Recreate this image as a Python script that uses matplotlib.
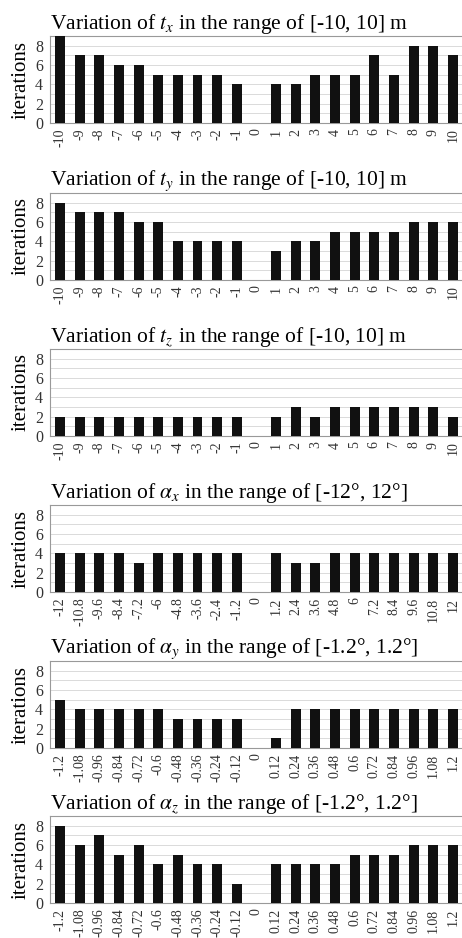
import matplotlib
matplotlib.use("Agg")
import matplotlib.pyplot as plt
import numpy as np

plt.rcParams['font.family'] = ['Liberation Serif', 'DejaVu Serif']
plt.rcParams['mathtext.fontset'] = 'stix'

# tick labels for each panel
t_labels = [str(v) for v in range(-10, 11)]
ax_labels = ["-12", "-10.8", "-9.6", "-8.4", "-7.2", "-6", "-4.8", "-3.6", "-2.4", "-1.2", "0",
             "1.2", "2.4", "3.6", "4.8", "6", "7.2", "8.4", "9.6", "10.8", "12"]
ay_labels = ["-1.2", "-1.08", "-0.96", "-0.84", "-0.72", "-0.6", "-0.48", "-0.36", "-0.24", "-0.12", "0",
             "0.12", "0.24", "0.36", "0.48", "0.6", "0.72", "0.84", "0.96", "1.08", "1.2"]

# iterations per perturbation
tx = [9, 7, 7, 6, 6, 5, 5, 5, 5, 4, 0, 4, 4, 5, 5, 5, 7, 5, 8, 8, 7]
ty = [8, 7, 7, 7, 6, 6, 4, 4, 4, 4, 0, 3, 4, 4, 5, 5, 5, 5, 6, 6, 6]
tz = [2, 2, 2, 2, 2, 2, 2, 2, 2, 2, 0, 2, 3, 2, 3, 3, 3, 3, 3, 3, 2]
alpha_x = [4, 4, 4, 4, 3, 4, 4, 4, 4, 4, 0, 4, 3, 3, 4, 4, 4, 4, 4, 4, 4]
alpha_y = [5, 4, 4, 4, 4, 4, 3, 3, 3, 3, 0, 1, 4, 4, 4, 4, 4, 4, 4, 4, 4]
alpha_z = [8, 6, 7, 5, 6, 4, 5, 4, 4, 2, 0, 4, 4, 4, 4, 5, 5, 5, 6, 6, 6]

titles = [
    r"Variation of $t_x$ in the range of [-10, 10] m",
    r"Variation of $t_y$ in the range of [-10, 10] m",
    r"Variation of $t_z$ in the range of [-10, 10] m",
    r"Variation of $\alpha_x$ in the range of [-12°, 12°]",
    r"Variation of $\alpha_y$ in the range of [-1.2°, 1.2°]",
    r"Variation of $\alpha_z$ in the range of [-1.2°, 1.2°]",
]
series = [tx, ty, tz, alpha_x, alpha_y, alpha_z]
labels = [t_labels, t_labels, t_labels, ax_labels, ay_labels, ay_labels]

W, H = 462, 938
fig = plt.figure(figsize=(W / 100, H / 100), dpi=100)

bottoms_px = [123, 280, 436, 592, 748, 903]
ax_h = 87
left_px = 50

for i in range(6):
    ax = fig.add_axes([left_px / W, 1 - bottoms_px[i] / H, (W - left_px) / W + 0.002, ax_h / H])
    x = np.arange(len(series[i]))
    ax.bar(x, series[i], width=0.5, color='#111111', zorder=3)
    ax.set_xlim(-0.51, 20.51)
    ax.set_ylim(0, 9)
    ax.set_yticks([0, 2, 4, 6, 8])
    ax.set_yticks(range(10), minor=True)
    ax.grid(axis='y', which='both', color='#dadada', lw=0.7, zorder=0)
    ax.set_xticks(x)
    ax.set_xticklabels(labels[i], rotation=90, fontsize=10, color='#333333')
    ax.tick_params(axis='y', labelsize=11.5, colors='#333333', length=0, pad=5)
    ax.tick_params(axis='y', which='minor', length=0)
    ax.tick_params(axis='x', length=0, pad=4)
    for s in ax.spines.values():
        s.set_color('#999999')
        s.set_linewidth(0.8)
    ax.set_ylabel("iterations", fontsize=15, labelpad=3)
    ax.set_title(titles[i], loc='left', fontsize=15.5, pad=4)

fig.savefig("out.png", dpi=100)
